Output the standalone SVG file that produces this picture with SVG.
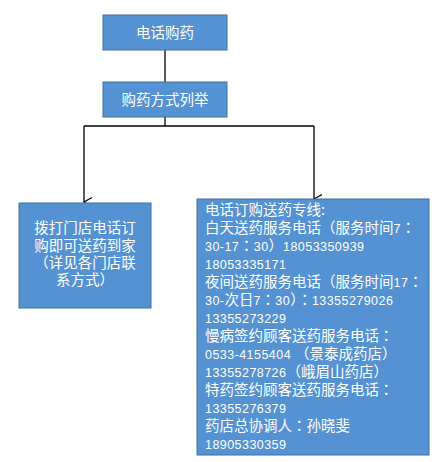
<svg xmlns="http://www.w3.org/2000/svg" width="442" height="462" viewBox="0 0 442 462">
<style>
.box{fill:#5592d3;stroke:#41719c;stroke-width:1}
.t{fill:#fff;font-family:"Noto Sans CJK SC","Liberation Sans",sans-serif;font-size:14.5px}
.c{text-anchor:middle}
.n{font-family:"Liberation Sans","Noto Sans CJK SC",sans-serif;font-size:12.5px;letter-spacing:0.45px}
.p{font-family:"Noto Sans CJK TC","Noto Sans CJK SC",sans-serif}
.ln{fill:none;stroke:#000;stroke-width:1.3}
</style>
<defs>
<marker id="arr" markerUnits="userSpaceOnUse" markerWidth="12" markerHeight="12" refX="6" refY="10" orient="auto-start-reverse" viewBox="0 0 12 12">
<path d="M1.5 2 L6 10 L10.5 2" fill="none" stroke="#000" stroke-width="1.3"/>
</marker>
</defs>
<g id="connectors">
<path class="ln" d="M165 50 V82"/>
<path class="ln" d="M165 117 V126"/>
<path class="ln" d="M84 126 H314"/>
<path class="ln" d="M84 126 V202" marker-end="url(#arr)"/>
<path class="ln" d="M314 126 V199" marker-end="url(#arr)"/>
</g>
<g id="n1">
<rect class="box" x="103" y="15" width="124" height="35"/>
<text class="t c" x="165" y="37.5" font-size="15">电话购药</text>
</g>
<g id="n2">
<rect class="box" x="103" y="82" width="124" height="35"/>
<text class="t c" x="165" y="104.5">购药方式列举</text>
</g>
<g id="n3">
<rect class="box" x="19" y="203" width="132" height="105"/>
<text class="t c" x="85" y="233">拨打门店电话订</text>
<text class="t c" x="85" y="251">购即可送药到家</text>
<text class="t c" x="85" y="268"><tspan class="p">（</tspan>详见各门店联</text>
<text class="t c" x="85" y="285">系方式<tspan class="p">）</tspan></text>
</g>
<g id="n4">
<rect class="box" x="197" y="199" width="232" height="256"/>
<text class="t" x="205" y="215">电话订购送药专线:</text>
<text class="t" x="205" y="233">白天送药服务电话<tspan class="p">（</tspan>服务时间<tspan class="n">7</tspan><tspan class="p">：</tspan></text>
<text class="t" x="205" y="251"><tspan class="n">30-17</tspan><tspan class="p">：</tspan><tspan class="n">30</tspan><tspan class="p">）</tspan><tspan class="n">18053350939</tspan></text>
<text class="t" x="205" y="269"><tspan class="n">18053335171</tspan></text>
<text class="t" x="205" y="287">夜间送药服务电话<tspan class="p">（</tspan>服务时间<tspan class="n">17</tspan><tspan class="p">：</tspan></text>
<text class="t" x="205" y="305"><tspan class="n">30-</tspan>次日<tspan class="n">7</tspan><tspan class="p">：</tspan><tspan class="n">30</tspan><tspan class="p">）：</tspan><tspan class="n">13355279026</tspan></text>
<text class="t" x="205" y="323"><tspan class="n">13355273229</tspan></text>
<text class="t" x="205" y="341">慢病签约顾客送药服务电话<tspan class="p">：</tspan></text>
<text class="t" x="205" y="359"><tspan class="n">0533-4155404 </tspan><tspan class="p">（</tspan>景泰成药店<tspan class="p">）</tspan></text>
<text class="t" x="205" y="377"><tspan class="n">13355278726</tspan><tspan class="p">（</tspan>峨眉山药店<tspan class="p">）</tspan></text>
<text class="t" x="205" y="395">特药签约顾客送药服务电话<tspan class="p">：</tspan></text>
<text class="t" x="205" y="413"><tspan class="n">13355276379</tspan></text>
<text class="t" x="205" y="431">药店总协调人<tspan class="p">：</tspan>孙晓斐</text>
<text class="t" x="205" y="449"><tspan class="n">18905330359</tspan></text>
</g>
</svg>
